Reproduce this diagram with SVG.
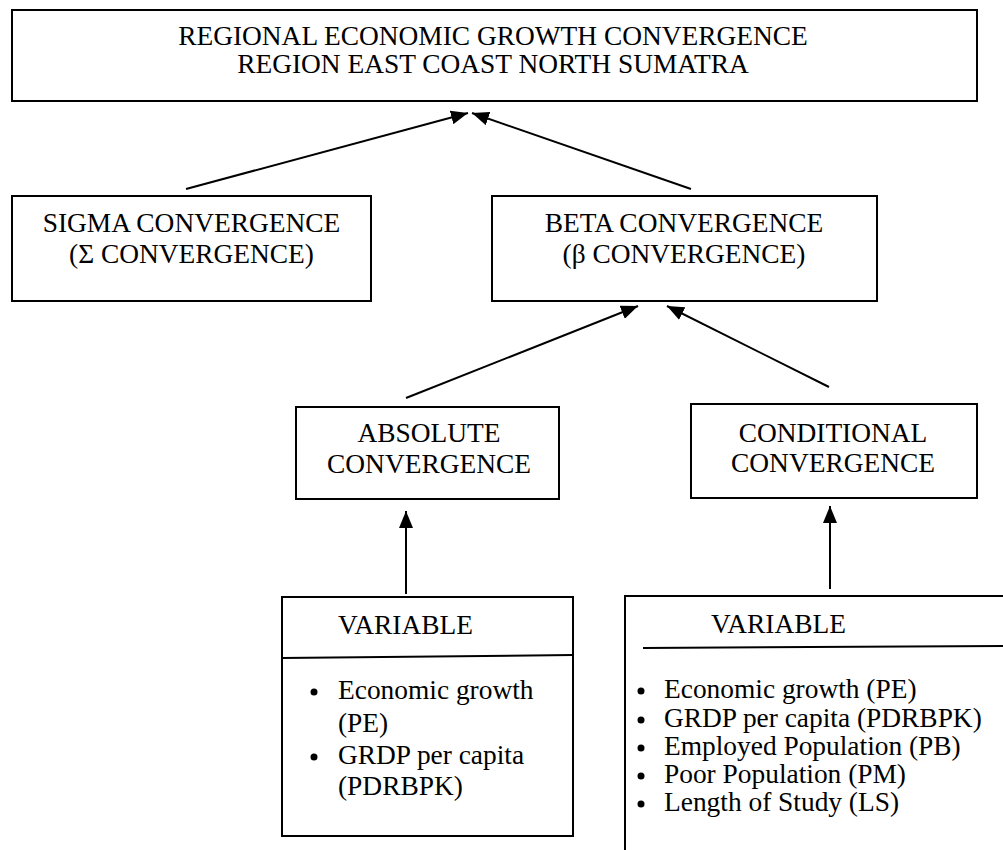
<svg xmlns="http://www.w3.org/2000/svg" width="1003" height="850" viewBox="0 0 1003 850">
<style>
.box{fill:#fff;stroke:#000;stroke-width:2}
.ln{fill:none;stroke:#000;stroke-width:2}
.t{font-family:"Liberation Serif","Times New Roman",serif;font-size:27.4px;fill:#000}
.c{text-anchor:middle}
.conn line{stroke:#000;stroke-width:2;marker-end:url(#ah)}
</style>
<defs>
<marker id="ah" markerUnits="userSpaceOnUse" markerWidth="18" markerHeight="14" refX="17" refY="7" orient="auto">
<path d="M0,0 L17,7 L0,14 Z" fill="#000"/>
</marker>
</defs>
<rect width="1003" height="850" fill="#fff"/>
<g id="title">
<rect class="box" x="12" y="10" width="965" height="91"/>
<text class="t c" x="493" y="45">REGIONAL ECONOMIC GROWTH CONVERGENCE</text>
<text class="t c" x="493" y="73">REGION EAST COAST NORTH SUMATRA</text>
</g>
<g id="sigma">
<rect class="box" x="12" y="196" width="359" height="105"/>
<text class="t c" x="191.5" y="232">SIGMA CONVERGENCE</text>
<text class="t c" x="191.5" y="263">(Σ CONVERGENCE)</text>
</g>
<g id="beta">
<rect class="box" x="492" y="196" width="385" height="105"/>
<text class="t c" x="684" y="232">BETA CONVERGENCE</text>
<text class="t c" x="684" y="263">(β CONVERGENCE)</text>
</g>
<g id="absolute">
<rect class="box" x="296" y="407" width="263" height="92"/>
<text class="t c" x="429" y="442">ABSOLUTE</text>
<text class="t c" x="429" y="473">CONVERGENCE</text>
</g>
<g id="conditional">
<rect class="box" x="691" y="404" width="286" height="94"/>
<text class="t c" x="833" y="442">CONDITIONAL</text>
<text class="t c" x="833" y="472">CONVERGENCE</text>
</g>
<g id="var-absolute">
<rect class="box" x="282" y="597" width="291" height="239"/>
<line class="ln" x1="282" y1="658" x2="573" y2="655"/>
<text class="t" x="338" y="634">VARIABLE</text>
<circle cx="314" cy="692" r="3.5"/>
<text class="t" x="338" y="699">Economic growth</text>
<text class="t" x="338" y="732">(PE)</text>
<circle cx="314" cy="757" r="3.5"/>
<text class="t" x="338" y="764">GRDP per capita</text>
<text class="t" x="338" y="795">(PDRBPK)</text>
</g>
<g id="var-conditional">
<path class="ln" d="M625,852 L625,596 L1005,596"/>
<line class="ln" x1="643" y1="648" x2="1005" y2="646"/>
<text class="t" x="711" y="633">VARIABLE</text>
<circle cx="641" cy="691" r="3.5"/>
<text class="t" x="664" y="698">Economic growth (PE)</text>
<circle cx="641" cy="720" r="3.5"/>
<text class="t" x="664" y="727">GRDP per capita (PDRBPK)</text>
<circle cx="641" cy="748" r="3.5"/>
<text class="t" x="664" y="755">Employed Population (PB)</text>
<circle cx="641" cy="776" r="3.5"/>
<text class="t" x="664" y="783">Poor Population (PM)</text>
<circle cx="641" cy="804" r="3.5"/>
<text class="t" x="664" y="811">Length of Study (LS)</text>
</g>
<g id="connectors" class="conn">
<line x1="186" y1="189" x2="468" y2="113"/>
<line x1="691" y1="189" x2="472" y2="113"/>
<line x1="406" y1="398" x2="638" y2="306"/>
<line x1="829" y1="387" x2="667" y2="306"/>
<line x1="406" y1="594" x2="406" y2="511"/>
<line x1="830" y1="589" x2="830" y2="506"/>
</g>
</svg>
